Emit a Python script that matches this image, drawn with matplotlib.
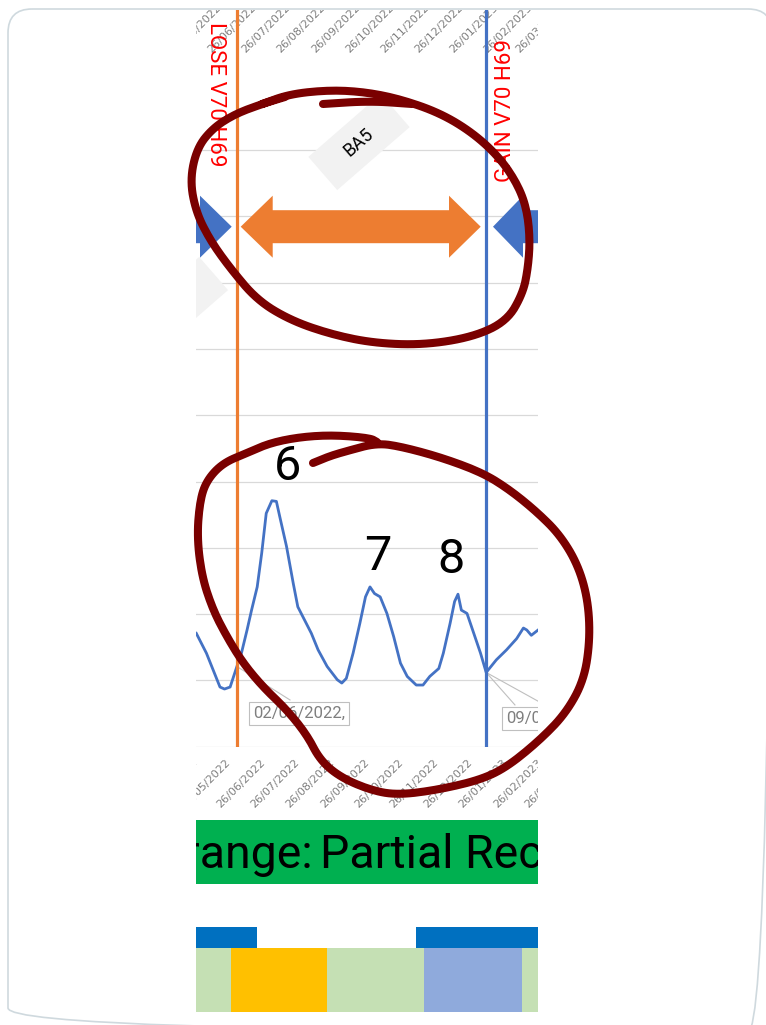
import numpy as np
import pandas as pd
import matplotlib
matplotlib.use("Agg")
import matplotlib.pyplot as plt
import matplotlib.dates as mdates
import matplotlib.transforms as mtransforms
from matplotlib.patches import Polygon, FancyBboxPatch, Rectangle

W, H = 766, 1025

# ---------------- data ----------------
curve_dates = ["2022-04-27", "2022-05-06", "2022-05-18", "2022-05-22", "2022-05-27",
               "2022-06-02", "2022-06-06", "2022-06-11", "2022-06-15", "2022-06-20",
               "2022-06-24", "2022-06-28", "2022-07-03", "2022-07-07", "2022-07-10",
               "2022-07-16", "2022-07-22", "2022-07-26", "2022-08-01", "2022-08-07",
               "2022-08-13", "2022-08-21", "2022-08-30", "2022-09-03", "2022-09-07",
               "2022-09-13", "2022-09-19", "2022-09-24", "2022-09-28", "2022-10-02",
               "2022-10-07", "2022-10-13", "2022-10-19", "2022-10-25", "2022-10-31",
               "2022-11-08", "2022-11-14", "2022-11-20", "2022-11-28", "2022-12-02",
               "2022-12-08", "2022-12-12", "2022-12-15", "2022-12-18", "2022-12-23",
               "2022-12-29", "2023-01-04", "2023-01-09", "2023-01-18", "2023-01-27",
               "2023-02-05", "2023-02-11", "2023-02-14", "2023-02-18", "2023-02-24"]
curve_values = [1.71, 1.41, 0.90, 0.87, 0.90,
                1.21, 1.41, 1.76, 2.06, 2.41,
                2.92, 3.52, 3.71, 3.70, 3.47,
                3.02, 2.46, 2.11, 1.91, 1.71,
                1.46, 1.21, 1.01, 0.96, 1.03,
                1.41, 1.86, 2.26, 2.41, 2.31,
                2.26, 2.01, 1.66, 1.26, 1.06,
                0.93, 0.93, 1.06, 1.18, 1.41,
                1.86, 2.19, 2.30, 2.06, 2.01,
                1.71, 1.41, 1.12, 1.31, 1.46,
                1.63, 1.79, 1.76, 1.68, 1.76]

change_dates = ["2022-06-02", "2023-01-09"]
change_labels = ["LOSE V70 H69", "GAIN V70 H69"]
change_colors = ["#ed7d31", "#4472c4"]
callout_texts = ["02/06/2022,", "09/01/2023,"]

wave_labels = ["6", "7", "8"]
wave_dates = ["2022-07-17", "2022-10-05", "2022-12-09"]
wave_values = [4.02, 2.67, 2.62]

tick_dates = pd.date_range("2022-03-01", "2023-04-01", freq="MS") + pd.Timedelta(days=25)
tick_labels = [d.strftime("%d/%m/%Y") for d in tick_dates]

strip1_starts = ["2022-03-01", "2022-11-08"]
strip1_ends = ["2022-06-20", "2023-04-30"]
strip2_starts = ["2022-03-01", "2022-05-28", "2022-08-21", "2022-11-15", "2023-02-10"]
strip2_ends = ["2022-05-28", "2022-08-21", "2022-11-15", "2023-02-10", "2023-04-30"]
strip2_colors = ["#c5e0b4", "#ffc000", "#c5e0b4", "#8faadc", "#c5e0b4"]

legend_left = "Orange:"
legend_right = "Partial Recovery"

# ---------------- figure ----------------
fig = plt.figure(figsize=(W / 100, H / 100), dpi=100)
fig.patch.set_facecolor("white")


def px_axes(x0, y0, x1, y1, **kw):
    return fig.add_axes([x0 / W, 1 - y1 / H, (x1 - x0) / W, (y1 - y0) / H], **kw)


def px_clipbox(x0, y0, x1, y1):
    return mtransforms.TransformedBbox(
        mtransforms.Bbox.from_extents(x0 / W, 1 - y1 / H, x1 / W, 1 - y0 / H), fig.transFigure)


ref = pd.Timestamp("2022-05-26")
XL = mdates.date2num(ref + pd.Timedelta(days=-29.26))
XR = mdates.date2num(ref + pd.Timedelta(days=273.94))

ax = px_axes(196, 10, 538, 746.7)
ax.set_xlim(XL, XR)
ax.set_ylim(0, 736.7 / 66.3)
ax.axis("off")
for g in range(0, 10):
    ax.axhline(g, color="#d9d9d9", lw=0.9, zorder=1)

cd = mdates.date2num(pd.to_datetime(curve_dates))
ax.plot(cd, curve_values, color="#4472c4", lw=2.0, solid_joinstyle="round", zorder=3)

chd = mdates.date2num(pd.to_datetime(change_dates))
for d, c in zip(chd, change_colors):
    ax.axvline(d, color=c, lw=2.3, zorder=4)

xtr = ax.get_xaxis_transform()
# red change labels
ax.text(chd[0], 1, change_labels[0], transform=mtransforms.offset_copy(xtr, fig=fig, x=-21, y=-12, units="dots"),
        rotation=-90, rotation_mode="anchor", ha="left", va="center", color="#ff0000",
        fontsize=16, family="Roboto", clip_on=True, zorder=6)
ax.text(chd[1], 1, change_labels[1], transform=mtransforms.offset_copy(xtr, fig=fig, x=19, y=-172, units="dots"),
        rotation=90, rotation_mode="anchor", ha="left", va="center", color="#ff0000",
        fontsize=16, family="Roboto", clip_on=True, zorder=6)

# top and bottom date labels
tdn = mdates.date2num(tick_dates)
bclip = px_clipbox(196, 0, 538, H)
for d, lab in zip(tdn, tick_labels):
    ax.text(d, 1, lab, transform=mtransforms.offset_copy(xtr, fig=fig, x=-51, y=-45, units="dots"),
            rotation=45, rotation_mode="anchor", ha="left", va="bottom", fontsize=8,
            color="#7f7f7f", clip_on=True, zorder=2)
    t = ax.text(d, 0, lab, transform=mtransforms.offset_copy(xtr, fig=fig, x=0, y=-14, units="dots"),
                rotation=45, rotation_mode="anchor", ha="right", va="center", fontsize=8,
                color="#7f7f7f")
    t.set_clip_box(bclip)
    t.set_clip_on(True)

# wave numbers
wd = mdates.date2num(pd.to_datetime(wave_dates))
for d, v, lab in zip(wd, wave_values, wave_labels):
    ax.text(d, v, lab, ha="center", va="baseline", fontsize=35, family="Roboto", color="black", zorder=7)

# callouts
cb = dict(boxstyle="square,pad=0.25", fc="white", ec="#bfbfbf", lw=0.8)
p1 = mdates.date2num(pd.Timestamp("2022-06-16 06:00"))
p2 = mdates.date2num(pd.Timestamp("2023-01-26 07:00"))
lead1 = mdates.date2num(pd.Timestamp("2022-07-19 02:00"))
lead2a = mdates.date2num(pd.Timestamp("2023-02-03 12:00"))
lead2b = mdates.date2num(pd.Timestamp("2023-03-02"))
ax.plot([chd[0], lead1], [1.21, 0.705], color="#bfbfbf", lw=0.8, zorder=2)
ax.plot([chd[1], lead2a], [1.12, 0.63], color="#bfbfbf", lw=0.8, zorder=2)
ax.plot([chd[1], lead2b], [1.12, 0.63], color="#bfbfbf", lw=0.8, zorder=2)
ax.text(p1, 0.50, callout_texts[0], ha="left", va="center", fontsize=12, family="Roboto",
        color="#7f7f7f", bbox=cb, clip_on=True, zorder=5)
ax.text(p2, 0.43, callout_texts[1], ha="left", va="center", fontsize=12, family="Roboto",
        color="#7f7f7f", bbox=cb, clip_on=True, zorder=5)

# bottom period strips
ab = px_axes(196, 927.3, 538, 1011.7)
ab.set_xlim(XL, XR)
ab.set_ylim(0, 1)
ab.axis("off")
s1s = mdates.date2num(pd.to_datetime(strip1_starts))
s1e = mdates.date2num(pd.to_datetime(strip1_ends))
ab.barh(0.88, s1e - s1s, left=s1s, height=0.24, color="#0070c0", edgecolor="none")
s2s = mdates.date2num(pd.to_datetime(strip2_starts))
s2e = mdates.date2num(pd.to_datetime(strip2_ends))
ab.barh(0.38, s2e - s2s, left=s2s, height=0.76, color=strip2_colors, edgecolor="none")

# ---------------- overlay (annotations, pixel coordinates, y downwards) ----------------
ov = fig.add_axes([0, 0, 1, 1], zorder=10)
ov.set_xlim(0, W)
ov.set_ylim(H, 0)
ov.axis("off")
ov.patch.set_alpha(0)


def clip_poly(x0, y0, x1, y1):
    return Polygon([(x0, y0), (x1, y0), (x1, y1), (x0, y1)], closed=True,
                   transform=ov.transData, fc="none", ec="none")


chart_clip = clip_poly(196, 10, 538, 746.7)
chart_box = px_clipbox(196, 10, 538, 746.7)

# arrows
cy, hh, sh = 226.7, 31, 16.5
orange_arrow = [(240.7, cy), (272.7, cy - hh), (272.7, cy - sh), (449, cy - sh), (449, cy - hh),
                (480.7, cy), (449, cy + hh), (449, cy + sh), (272.7, cy + sh), (272.7, cy + hh)]
blue_left = [(150, cy - sh), (200, cy - sh), (200, cy - hh), (231.7, cy), (200, cy + hh), (200, cy + sh), (150, cy + sh)]
blue_right = [(493, cy), (523, cy - hh), (523, cy - sh), (600, cy - sh), (600, cy + sh), (523, cy + sh), (523, cy + hh)]
for pts, col in [(orange_arrow, "#ed7d31"), (blue_left, "#4472c4"), (blue_right, "#4472c4")]:
    p = ov.add_patch(Polygon(pts, closed=True, fc=col, ec="none", zorder=2))
    p.set_clip_path(chart_clip)

# rotated label boxes
ang = np.deg2rad(41)
L = np.array([np.cos(ang), -np.sin(ang)])
U = np.array([-np.sin(ang), -np.cos(ang)])


def rbox(c, hw=48, hh2=22):
    c = np.array(c)
    return [c + hw * L + hh2 * U, c + hw * L - hh2 * U, c - hw * L - hh2 * U, c - hw * L + hh2 * U]


for c in [(359, 142), (177.4, 305)]:
    p = ov.add_patch(Polygon(rbox(c), closed=True, fc="#f2f2f2", ec="none", zorder=2))
    p.set_clip_path(chart_clip)
t = ov.text(359, 142, "BA5", rotation=41, ha="center", va="center", fontsize=13,
            family="Roboto", color="black", zorder=3)
t.set_clip_box(chart_box)
t.set_clip_on(True)

# green legend bar
ov.add_patch(Rectangle((196, 820), 342, 64, fc="#00b050", ec="none", zorder=2))
bar_box = px_clipbox(196, 820, 538, 884)
for x, s, ha in [(313, legend_left, "right"), (320, legend_right, "left")]:
    t = ov.text(x, 868, s, ha=ha, va="baseline", fontsize=33.4, family="Roboto", color="black", zorder=3)
    t.set_clip_box(bar_box)
    t.set_clip_on(True)


# hand-drawn circles
def chaikin(pts, n=3):
    p = np.asarray(pts, float)
    for _ in range(n):
        q = 0.75 * p[:-1] + 0.25 * p[1:]
        r = 0.25 * p[:-1] + 0.75 * p[1:]
        new = np.empty((2 * len(q), 2))
        new[0::2] = q
        new[1::2] = r
        p = np.vstack([p[:1], new, p[-1:]])
    return p


upper = [(262, 104), (290, 94), (330, 90), (365, 92), (400, 99), (440, 113), (473, 133), (500, 158),
         (518, 185), (527, 210), (530, 240), (528, 268), (523, 293), (507, 321), (473, 337), (423, 345),
         (373, 343), (330, 334), (290, 320), (257, 300), (230, 268), (210, 240), (196, 212), (190, 180),
         (197, 148), (213, 128), (235, 114), (262, 104), (285, 97)]
upper_stroke = [(323, 104), (370, 101), (412, 104)]
lower = [(313, 463), (330, 456), (347, 451), (377, 443), (403, 447), (443, 458), (483, 473), (510, 490),
         (537, 512), (560, 535), (578, 565), (588, 600), (590, 640), (584, 680), (566, 713), (540, 740),
         (507, 767), (480, 780), (437, 790), (397, 795), (370, 790), (340, 777), (320, 760), (307, 735),
         (287, 710), (263, 687), (243, 663), (227, 637), (213, 610), (202, 577), (197, 537), (200, 500),
         (207, 480), (223, 463), (247, 453), (270, 443), (300, 437), (333, 435), (370, 438), (377, 442)]
for pts in (upper, upper_stroke, lower):
    sm = chaikin(pts, 3)
    ov.plot(sm[:, 0], sm[:, 1], color="#7a0000", lw=5.8, solid_capstyle="round",
            solid_joinstyle="round", zorder=8)

# card border
ov.add_patch(FancyBboxPatch((8, 9), 764, 1023, boxstyle="round,pad=0,rounding_size=24",
                            fc="none", ec="#cfd9de", lw=1.2, zorder=9, clip_on=False))

fig.savefig("out.png", dpi=100, facecolor="white")
